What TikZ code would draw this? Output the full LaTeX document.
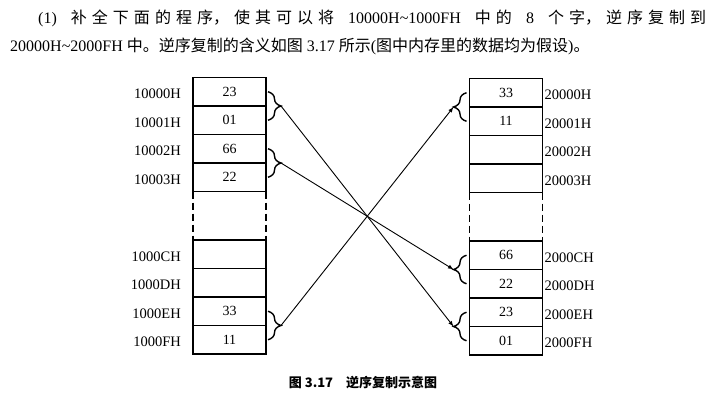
\documentclass[tikz,border=0pt]{standalone}
\usepackage{fontspec}
\setmainfont{Liberation Serif}
\newfontfamily\cjk{Noto Sans CJK SC}
\usetikzlibrary{positioning,calc,decorations.pathreplacing}
\XeTeXlinebreaklocale "zh"
\XeTeXlinebreakskip=0pt plus 1pt

\tikzset{
  cell/.style={draw, line width=1.4pt, minimum width=73pt, minimum height=28.5pt,
    inner sep=0pt, outer sep=0pt, font=\fontsize{14}{14}\selectfont},
  addr/.style={inner sep=0pt, yshift=-2pt, font=\fontsize{14.5}{14.5}\selectfont},
  brc/.style={decorate, decoration={brace, amplitude=13pt}, line width=1.4pt},
  gap/.style={line width=1.4pt, dash pattern=on 7pt off 4pt},
  link/.style={line width=0.9pt, -latex}
}

\begin{document}
\begin{tikzpicture}[x=1pt,y=-1pt]
  \useasboundingbox (0,0) rectangle (717,404);

  % aufgabe
  \node[anchor=west, inner sep=0pt, text width=668pt, align=justify] (head1) at (38,18)
    {\fontsize{16}{16}\selectfont\parfillskip=0pt\noindent
     (1) {\cjk 补全下面的程序，使其可以将} 10000H\textasciitilde1000FH {\cjk 中的} 8 {\cjk 个字，逆序复制到}\par};
  \node[anchor=west, inner sep=0pt] (head2) at (10,46)
    {\fontsize{16}{16}\selectfont 20000H\textasciitilde2000FH {\cjk 中。逆序复制的含义如图} 3.17 {\cjk 所示}({\cjk 图中内存里的数据均为假设}){\cjk 。}};

  % quelle
  \node[cell] (l0) at (229.5,91.75) {23};
  \node[cell, below=0pt of l0] (l1) {01};
  \node[cell, below=0pt of l1] (l2) {66};
  \node[cell, below=0pt of l2] (l3) {22};
  \node[cell, below=48.5pt of l3] (lc) {};
  \node[cell, below=0pt of lc] (ld) {};
  \node[cell, below=0pt of ld] (le) {33};
  \node[cell, below=0pt of le] (lf) {11};
  \draw[gap] (l3.south west) -- (lc.north west);
  \draw[gap] (l3.south east) -- (lc.north east);

  \node[addr, left=12pt of l0] (a0) {10000H};
  \node[addr, left=12pt of l1] (a1) {10001H};
  \node[addr, left=12pt of l2] (a2) {10002H};
  \node[addr, left=12pt of l3] (a3) {10003H};
  \node[addr, left=12pt of lc] (ac) {1000CH};
  \node[addr, left=12pt of ld] (ad) {1000DH};
  \node[addr, left=12pt of le] (ae) {1000EH};
  \node[addr, left=12pt of lf] (af) {1000FH};

  % ziel
  \node[cell] (r0) at (506,92.75) {33};
  \node[cell, below=0pt of r0] (r1) {11};
  \node[cell, below=0pt of r1] (r2) {};
  \node[cell, below=0pt of r2] (r3) {};
  \node[cell, below=48.5pt of r3] (rc) {66};
  \node[cell, below=0pt of rc] (rd) {22};
  \node[cell, below=0pt of rd] (re) {23};
  \node[cell, below=0pt of re] (rf) {01};
  \draw[gap] (r3.south west) -- (rc.north west);
  \draw[gap] (r3.south east) -- (rc.north east);

  \node[addr, right=2pt of r0] (b0) {20000H};
  \node[addr, right=2pt of r1] (b1) {20001H};
  \node[addr, right=2pt of r2] (b2) {20002H};
  \node[addr, right=2pt of r3] (b3) {20003H};
  \node[addr, right=2pt of rc] (bc) {2000CH};
  \node[addr, right=2pt of rd] (bd) {2000DH};
  \node[addr, right=2pt of re] (be) {2000EH};
  \node[addr, right=2pt of rf] (bf) {2000FH};

  % klammern
  \draw[brc] ($(l0.east)+(2,0)$) -- ($(l1.east)+(2,0)$);
  \draw[brc] ($(l2.east)+(2,0)$) -- ($(l3.east)+(2,0)$);
  \draw[brc] ($(le.east)+(2,0)$) -- ($(lf.east)+(2,0)$);
  \draw[brc] ($(r1.west)+(-3,0)$) -- ($(r0.west)+(-3,0)$);
  \draw[brc] ($(rd.west)+(-3,0)$) -- ($(rc.west)+(-3,0)$);
  \draw[brc] ($(rf.west)+(-3,0)$) -- ($(re.west)+(-3,0)$);

  \coordinate (t0) at ($(l0.south east)+(15,0)$);
  \coordinate (t2) at ($(l2.south east)+(15,0)$);
  \coordinate (te) at ($(le.south east)+(15,0)$);
  \coordinate (u0) at ($(r0.south west)+(-16,0)$);
  \coordinate (uc) at ($(rc.south west)+(-16,0)$);
  \coordinate (ue) at ($(re.south west)+(-16,0)$);

  % verbindungen
  \draw[link] (t0) -- (ue);
  \draw[link] (t2) -- (uc);
  \draw[link] (te) -- (u0);

  \node[font=\cjk\bfseries\fontsize{13}{13}\selectfont] (cap) at (363,383)
    {图 3.17\quad 逆序复制示意图};
\end{tikzpicture}
\end{document}
